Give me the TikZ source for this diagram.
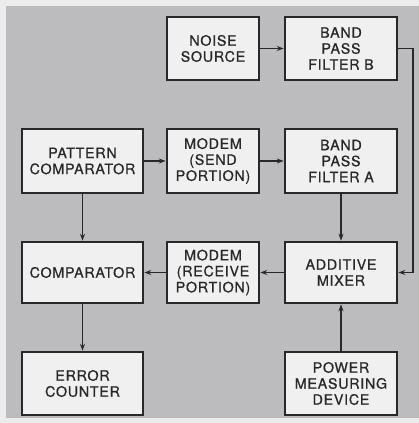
\documentclass[tikz,border=0pt]{standalone}
\usepackage{fontspec}
\setmainfont{TeX Gyre Heros}[LetterSpace=5.0,FakeBold=0.7]
\usetikzlibrary{arrows.meta}
\definecolor{paper}{RGB}{236,236,236}
\definecolor{panel}{RGB}{188,188,190}
\definecolor{boxfill}{RGB}{240,240,240}
\definecolor{ink}{RGB}{40,40,40}

\begin{document}
\begin{tikzpicture}[x=1pt,y=1pt,
  block/.style={draw=ink,fill=boxfill,line width=2.6pt,align=center,
    inner sep=0pt,font=\fontsize{14.3}{16}\selectfont,text=ink},
  link/.style={draw=ink,line width=1.3pt,-{Stealth[length=7pt,width=5pt]}}]
  \useasboundingbox (0,0) rectangle (419,423);
  \fill[paper] (0,0) rectangle (419,423);
  \fill[panel] (6,5) rectangle (419,417);

  \node[block,minimum width=92pt,minimum height=63pt] (noise) at (213,374.5) {NOISE\\SOURCE};
  \node[block,minimum width=112pt,minimum height=63pt] (bpfb) at (341,374.5) {BAND\\PASS\\FILTER B};

  \node[block,minimum width=121pt,minimum height=64pt] (pattern) at (82.5,262) {PATTERN\\COMPARATOR};
  \node[block,minimum width=92pt,minimum height=64pt] (modsend) at (213,262) {MODEM\\(SEND\\PORTION)};
  \node[block,minimum width=112pt,minimum height=64pt] (bpfa) at (341,262) {BAND\\PASS\\FILTER A};

  \node[block,minimum width=121pt,minimum height=61pt] (comp) at (82.5,150.5) {COMPARATOR};
  \node[block,minimum width=92pt,minimum height=61pt] (modrecv) at (213,150.5) {MODEM\\(RECEIVE\\PORTION)};
  \node[block,minimum width=112pt,minimum height=61pt] (mixer) at (341,150.5) {ADDITIVE\\MIXER};

  \node[block,minimum width=121pt,minimum height=63pt] (errcount) at (82.5,39.5) {ERROR\\COUNTER};
  \node[block,minimum width=112pt,minimum height=63pt] (power) at (341,39.5) {POWER\\MEASURING\\DEVICE};

  \coordinate (turn) at (413,374.5);

  \draw[link] (noise) -- (bpfb);
  \draw[link] (bpfb.east) -- (turn) |- (mixer.east);
  \draw[link] (pattern) -- (modsend);
  \draw[link] (modsend) -- (bpfa);
  \draw[link] (pattern) -- (comp);
  \draw[link] (bpfa) -- (mixer);
  \draw[link] (mixer) -- (modrecv);
  \draw[link] (modrecv) -- (comp);
  \draw[link] (comp) -- (errcount);
  \draw[link] (power) -- (mixer);
\end{tikzpicture}
\end{document}
